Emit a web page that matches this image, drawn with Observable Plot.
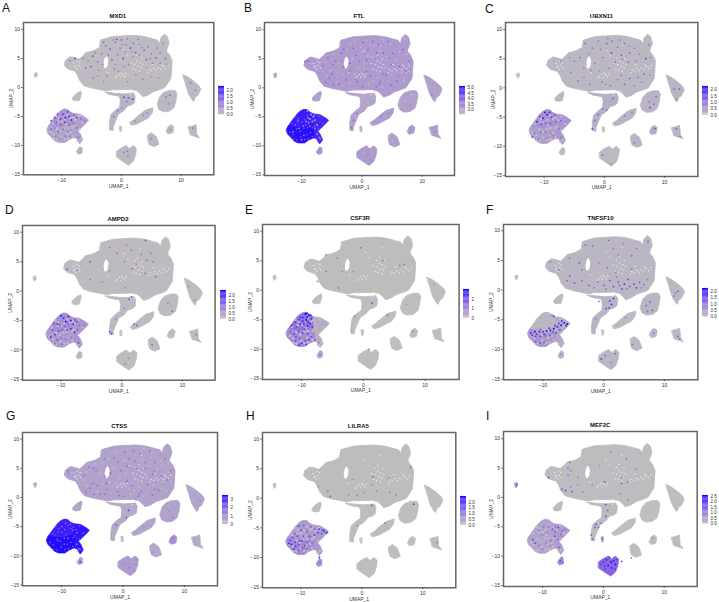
<!DOCTYPE html>
<html><head><meta charset="utf-8">
<script src="https://cdn.jsdelivr.net/npm/d3@7"></script>
<script src="https://cdn.jsdelivr.net/npm/@observablehq/plot@0.6"></script>
<style>
html,body{margin:0;padding:0;background:#fff}
#root{position:relative;width:719px;height:602px;overflow:hidden;font-family:"Liberation Sans",Arial,sans-serif}
#root svg{position:absolute;background:transparent;overflow:visible}
#root svg g[aria-label="dot"],#root svg g[aria-label="line"]{filter:blur(.3px)}
.lt{position:absolute;font-size:12px;line-height:12px;color:#111}
.ti{position:absolute;font-size:6px;line-height:6px;font-weight:bold;color:#111;text-align:center}
</style></head><body><div id="root"></div>
<script>
// Cluster outlines of the UMAP
const core=[[-9.6,3.9],[-9.4,4.7],[-8.6,5.3],[-8,5.2],[-7.1,4.9],[-6.5,5.4],[-6,6],[-5.2,6.2],[-4.6,6.4],[-3.7,6.9],[-3.5,8.2],[-2.5,8.5],[-1.5,8.8],[0,8.9],[2,9],[3.2,8.9],[4.2,8.7],[5.2,8.4],[6,8.2],[6.4,7.6],[6.6,8.6],[7.2,9.2],[7.7,8.8],[8,7.6],[7.6,6.6],[7.6,6.2],[8.1,5.6],[8.5,4.6],[8.4,3],[8.3,1.6],[7.3,0],[6.3,-.4],[5.4,-.7],[4.5,-1.3],[3.6,-1.6],[3,-.9],[2.5,-.5],[1.5,-.4],[0,-.4],[-1.5,-.4],[-2.5,-.6],[-4,-.3],[-5,-.1],[-6.3,.3],[-7,1.2],[-7.4,2.2],[-7.8,2.8],[-9,3.2]];
const lobe=[[-2.7,-.8],[-1,-1],[.3,-1.1],[2,-.9],[2.3,-1.5],[2.2,-2.6],[1.7,-3],[1,-3.2],[.4,-4],[-.5,-4.6],[-1,-5.8],[-1.4,-6.8],[-1.4,-7.4],[-2,-7.3],[-2,-6],[-1.8,-4.7],[-1,-3.9],[-.3,-3.4],[-.2,-2.2],[-.4,-1.5],[-2,-1.2]];
const myeUpper=[[-12.2,-6.6],[-11.6,-5.7],[-10.8,-4.6],[-10.2,-4],[-9.6,-3.7],[-9,-3.8],[-8.6,-4.2],[-8,-4.5],[-8,-6.4],[-10,-7]];
const myeRight=[[-8.05,-4.5],[-7,-4.6],[-6,-5.2],[-5.5,-5.6],[-6,-6.2],[-6.6,-6.8],[-7.3,-7.5],[-6.9,-8],[-6.5,-9],[-7,-9.7],[-7.5,-8.8],[-8,-8.6],[-8.2,-7],[-8.05,-6.35]];
const myeLower=[[-12.5,-7.2],[-12.2,-6.55],[-10,-6.95],[-7.95,-6.35],[-7.95,-8.6],[-8.8,-9],[-9.5,-9.5],[-10.5,-9.5],[-11.2,-9.2],[-11.8,-8.5],[-12.3,-8]];
const lowSpeck=[[-7.4,-10.8],[-7,-10.2],[-6.6,-10.4],[-6.6,-11.3],[-7.2,-11.5],[-7.5,-11.2]];
const leftBlob=[[-8.2,-1.7],[-7.5,-1],[-6.8,-.6],[-6.7,-1],[-7,-2.2],[-7.7,-2.3],[-8.1,-2.2]];
const tiny=[[-14.6,2.4],[-14.2,2.6],[-14.1,2],[-14.4,1.7]];
const rightTop=[[10.3,2.2],[11,1.9],[12,1.2],[13,.3],[13.3,-.3],[12.8,-1.4],[12.4,-1.6],[12.1,-2.4],[11.8,-2.1],[11.2,-1],[10.8,.4]];
const blobMid=[[6.4,-1.6],[7,-.9],[8,-.5],[9,-.5],[9.3,-1.1],[9.1,-2.5],[8.8,-3.5],[8,-4.1],[7,-4.2],[6.3,-3.8],[6,-3]];
const elong=[[1.4,-6],[2,-5.6],[3,-4.7],[4,-3.9],[5.3,-3.5],[5.2,-4.3],[4.6,-5.2],[3.5,-5.8],[2.6,-6.3],[1.7,-6.5]];
const small8=[[7.5,-7.6],[7.8,-6.8],[8.3,-6.4],[8.8,-6.8],[8.6,-7.8],[7.9,-8]];
const blob12=[[11.2,-6.8],[12,-6.6],[12.5,-6.4],[12.6,-7.4],[12.6,-8],[13.1,-8.7],[12.2,-8.4],[11.6,-8.2]];
const blob5=[[4.4,-8.2],[5,-7.8],[5.8,-8.4],[6.1,-9.2],[6.3,-9.8],[5.4,-10.2],[4.6,-9.8],[4.4,-9]];
const blob1=[[-.8,-11],[0,-10.4],[.8,-10],[1.3,-10.5],[2,-10],[2.5,-10.5],[2.4,-11.5],[2,-12.7],[1.2,-13.4],[.3,-12.8],[-.8,-12]];
const speck=[[-.3,-6.7],[0,-6.7],[0,-7.5],[-.2,-7.6]];
const clusters=[core,lobe,myeUpper,myeRight,myeLower,lowSpeck,leftBlob,tiny,rightTop,blobMid,elong,small8,blob12,blob5,blob1,speck];
const holes=[[[-2.9,3.4],[-2.6,3.3],[-2.3,3.8],[-2.2,4.8],[-2.5,5.4],[-2.8,5.1],[-3,4.2]],[[-.6,-.5],[1.9,-.4],[1.9,-.9],[-.6,-.9]]];
// Small empty pockets of the big cluster
const pockets=[[-8,4.2],[-7.7,3.7],[-7.4,4.5],[-7.2,3.8],[-7,4.3],[-7.5,3.2],[-6.9,3.4],[-7.9,3.5],[-.8,2],[-.4,2.3],[-.2,1.8],[.2,2.2],[.5,1.9],[.7,2.4],[-1,1.7],[0,2.5],[1.9,3.2],[2.2,4],[2.4,3],[2.6,4.6],[2.8,3.6],[3,2.8],[3.1,4.3],[3.3,3.4],[3.4,5],[3.6,4],[2.1,5.1],[1.6,4.2],[2.6,5.6],[4.6,3.1],[5,2.9],[5.4,3.3],[5.8,3],[6.2,3.4],[6.6,3.1],[7,3.6],[7.4,3.3],[7.8,3.8],[6.8,3.9],[5.2,4],[4.4,2.6],[1,5.5],[.4,6.4],[3,7.2],[-2.2,2.6],[.7,-.6],[1.5,-1.2]];

// Typical expression of each cluster, same order as clusters
const levelsMXD1=[.04,.15,.6,.45,.38,.2,.02,0,.05,.08,.08,.05,.08,.08,.08,0];
const levelsFTL=[3.1,2.95,4.9,4.8,5,3.2,3,2.95,3,3,3.05,3.1,3.05,3,3.1,2.9];
const levelsUBXN11=[.08,.2,.65,.55,.45,.05,.1,0,.12,.15,.15,.25,.15,.12,.05,0];
const levelsAMPD2=[.04,.08,.7,.6,.55,.1,.03,0,.03,.04,.04,.02,.03,.04,.03,0];
const levelsCSF3R=[.01,.02,1.4,.3,.95,.4,0,0,0,0,.02,.02,.02,0,.01,.02];
const levelsTNFSF10=[.1,.15,.12,.3,.55,.15,.06,0,.08,.12,.06,.1,.1,.08,.1,0];
const levelsCTSS=[.6,.42,3.2,3.3,3.4,.5,.5,.3,.55,.6,.55,1,.4,.45,.75,.3];
const levelsLILRA5=[.01,.01,.55,.55,.8,.7,0,0,0,0,.02,0,.05,0,0,0];
const levelsMEF2C=[.02,.05,.42,.55,.42,.8,0,.6,0,0,0,.05,.05,0,1.4,.5];

// Individually visible cells: x, y, expression
const spotsMXD1=[[-3,7.8,1.2],[-1.9,6.6,1.6],[-1,7.8,1],[-.8,8.3,1.8],[0,8.2,1.4],[.8,7.4,1],[1.5,6.8,2],[2,7.6,1.2],[2.4,6,1.5],[3,7.4,.9],[3.8,6.4,1.3],[4.4,7,1],[5,5.8,1.2],[5.8,5.1,1.4],[6.5,6,1],[7.4,5,1.4],[-4.8,5.4,1.4],[-4,4.4,1],[-5.1,3.6,1.6],[-3.8,3,1],[-3.3,5.8,1.3],[-1.6,4.8,1.4],[-.6,5.6,1],[.3,5,1.6],[.6,6.2,1],[1.2,4,1.2],[2,5.2,1],[4.2,4.8,1.3],[5.2,4.2,1.1],[6.5,4.2,1],[7.6,4,.9],[-6,3.4,1.2],[-7.8,5,1.6],[-8.6,4.6,1],[-1.2,3.2,1],[.5,3.6,1],[-2.4,2,1],[-4.7,1.6,.9],[-3,1,.9],[1,1,.9],[3.6,1.4,.9],[5,1.8,.8],[.4,-1.7,2],[1.2,-1.8,1.6],[1.9,-2,2.1],[.9,-2.4,1.2],[.1,-3.5,1],[-.6,-4,1.2],[-1.3,-5,1.1],[7.5,-1.6,1.2],[8.1,-1.3,1.5],[7.9,-2.8,1],[3.6,-4.8,1],[4.3,-4.4,1],[2.3,-5.8,.9],[11.6,.8,1.3],[12.4,-.5,.8],[.4,-11.2,1],[1,-11,1.2],[1.1,-11.8,.9],[5,-8.8,1.2],[12,-7,1.2],[8.2,-7.2,.8],[-11.8,-5.7,1.8],[-11.2,-5.2,2],[-10.7,-4.6,1.6],[-10.2,-5.4,2.2],[-9.8,-4.6,2],[-9.4,-5.2,2.3],[-9,-4.2,1.8],[-8.8,-5,2.1],[-8.4,-5.6,2],[-8,-4.8,1.7],[-7.5,-5.2,1.8],[-6.8,-5.4,1.3],[-6.2,-5.7,1.1],[-10.9,-6,1.8],[-10.2,-6.4,1.6],[-9.5,-6,2],[-8.8,-6.5,1.4],[-8,-6.2,1.4],[-11.8,-7.2,1.4],[-11.2,-7,1.2],[-10.6,-7.6,1.4],[-9.8,-7.2,1.2],[-9,-7.6,1.3],[-8.4,-7.4,1],[-11,-8.4,1.1],[-10.2,-8.8,1],[-9.4,-8.4,1.2],[-8.6,-8.4,1],[-7.4,-7,1.2],[-7.2,-8.6,1.3],[-2.6,7.2,1],[-1.4,8.2,.8],[-.2,6.8,1.1],[1,8.4,1],[2.8,8.3,1],[3.4,6.9,.9],[1.8,6.2,.9],[.2,7.4,.8],[-2.2,5.6,1],[-5.6,4.6,.9],[-6.4,5,1],[-4.4,6,1],[-3.2,4,.9],[-1,4,.9],[3,5.6,1],[4.8,5,.9],[6,6.8,1],[7,7.6,.9],[-.5,2.8,.8],[-4,2,.8],[2.4,2.2,.8],[4.4,3.4,.8],[6.2,1.6,.8]];
const spotsFTL=[[-9.4,4.5,3.9],[-4.8,4,3.9],[-4,2.6,2.7],[-3.4,6,3.9],[-2,7.6,2.6],[-1,5.6,3.8],[-.2,7,2.6],[.8,4.8,3.9],[1.4,7.4,2.7],[2.4,6,3.8],[3.6,8,2.6],[4.6,5.2,3.7],[5.4,6.2,2.6],[6.8,5,2.7],[7.1,8.4,2.6],[7.4,2.6,2.6],[6,2,3.7],[4.4,1.2,2.7],[2.8,.6,3.8],[1,1,2.7],[-1,1.4,3.8],[-3,.4,2.7],[-5.4,1.6,3.8],[-6.4,2.8,2.7],[-2,3,3.7],[.4,3.4,2.6],[3.5,2.4,3.8],[.2,-1.8,2.6],[1,-2.4,2.6],[1.8,-1.7,2.7],[-.8,-4.4,3.8],[-1.4,-5.6,4],[-1.7,-6.9,4.1],[3.2,-5,3.7],[4.4,-4.4,3.6],[7.2,-2.2,2.6],[8.2,-1.2,2.6],[8,-3,3.6],[12,0,2.6],[11.6,-1.2,3.6],[12.2,-7.6,3.6],[8.1,-7.2,3.6],[5.2,-9,2.7],[1,-11.6,3.6],[.2,-11.2,2.7],[1.4,-12.4,3.6],[-8.6,-5.4,2.7],[-8.2,-5.8,2.8],[-8.8,-6,3],[-7.8,-5.6,3],[-8.4,-4.6,2.9],[-9,-4,3.1],[-7.4,-6.4,3],[-7,-8.6,3.2],[-7.4,-8,3],[-10.4,-7,3.4],[-11.4,-7.6,3.6],[-9.6,-8.2,3.5],[-10.6,-5.6,3.8],[-8.9,-5.2,3],[-9.2,-5.8,3.2],[-8,-4.9,3],[-8.6,-6.6,3.1],[-7.8,-7,3.3],[-9.7,-6.6,3.6],[-11,-6.4,3.8],[-10,-9,3.6]];
const spotsUBXN11=[[-3.2,7.6,1.2],[-2,6.8,1],[-1,8,1],[.4,7.6,1.4],[1.3,8,1.2],[1.2,6,1.8],[2.2,7,1],[2.8,5.6,1.4],[3.4,7.6,1.1],[4.2,6,1.2],[5,6.8,1],[6.9,5,1.8],[7.7,5.2,1.1],[7.4,7.4,1.1],[-5,4.6,1],[-4,5.2,1.2],[-3.4,3.4,1],[-1.6,4.2,1],[-.2,5.2,1.1],[.8,3.4,1.1],[1.8,4.4,1.2],[4,4.4,1.2],[5.2,4.6,1],[6.6,2.4,1.2],[5.6,1.8,1.1],[4.2,1.6,1.4],[3.4,.6,1.2],[2.2,1.4,1],[1,.4,1],[-.4,1,1.2],[-2.4,.6,1],[-4.4,1.2,1],[-5.6,2.6,.9],[-7.2,4.6,1.1],[.4,-3.8,1.1],[1.4,-1.8,1.4],[-.3,-3.6,1.3],[-1,-4.6,1.4],[-1.6,-5.6,1.3],[-2,-7,1.6],[3.4,-4.8,1],[4.6,-4.2,1],[7.4,-2.4,1],[7.6,-3.4,1.6],[8.6,-1.5,1.2],[8.3,-2.8,1.2],[11.6,-.2,1.4],[12.5,-.2,1.4],[12,-2,1],[8.4,-7,1.4],[12,-7,1.2],[12.6,-8.3,1.1],[5,-9.4,1.1],[-.3,-11.5,1.3],[1.1,-13,1],[-10.8,-4.9,1.8],[-10.2,-5.2,2.2],[-9.9,-4.2,2.2],[-9.5,-4.6,2.2],[-9.1,-4.2,2],[-8.8,-5,1.8],[-8.2,-4.6,1.6],[-11.2,-5.8,2],[-10.5,-6.2,1.8],[-9.8,-6,1.5],[-9,-6.2,1.6],[-8,-5.8,1.4],[-7.2,-5.6,1.4],[-6.4,-5.8,1],[-12,-8.4,1.8],[-11.6,-7.8,1.4],[-11,-8.8,1.2],[-10.6,-7.6,1.3],[-9.8,-7.6,1.2],[-9,-7.8,1],[-9.6,-8.6,1.1],[-8.4,-8.2,1.1],[-7.5,-7,1],[-7.2,-8.5,1],[-2.6,5.8,.9],[-.6,6.6,.9],[.6,8.4,.9],[2.6,8.2,.9],[4.2,7.2,.9],[5.8,5.8,.9],[3,4.9,.9],[-5.8,5.2,.9],[-2.2,3,.9],[-.8,2.9,.9],[6.2,1,.9],[7.6,2.2,.9],[5,.4,.9],[2.8,2.2,.9],[-3.4,1.8,.8],[.2,.6,.8]];
const spotsAMPD2=[[.8,7.8,1],[1.6,7,1.2],[3.9,8.6,1.8],[3.2,6.2,1.2],[4.8,6.4,1],[5.2,5,1.2],[4.1,5.2,1.3],[-5.2,5,1.6],[-2,7.4,1],[-.8,6.4,1.1],[.4,5,1],[1.7,3.8,1.2],[2.4,4.6,1.1],[3.8,3,1.1],[5.6,2.4,1.2],[-9,3.7,1.8],[-7.4,3.6,1],[-5.2,2,1],[-3.2,1.6,1],[-2,3.4,1],[.6,.6,.9],[1.6,-1,1.6],[1.2,-1.4,1.6],[.4,-2.9,.9],[-1,-4.8,1],[-2,-6.9,1.8],[-1.7,-7.2,2],[7.6,-2,1],[8.3,-3.4,1.2],[11,.8,1],[12,-1.5,1],[2,-5.6,1.5],[2.5,-5.8,1.6],[5,-9.1,1.3],[12.2,-7.4,1.3],[.6,-12.3,1.1],[1.1,-11.4,1],[-10.6,-5.6,2.2],[-11.2,-5.4,1.8],[-10,-4.2,2.4],[-9.6,-4.6,2.2],[-9.2,-5.2,2.4],[-8.8,-4.3,2.2],[-8.4,-5,2.4],[-8,-5.6,2.3],[-7.4,-5.2,1.8],[-6.4,-5.8,1.2],[-11.4,-6.6,1.8],[-11.7,-7.8,2.4],[-11,-7.4,2],[-10.4,-6.8,1.8],[-9.8,-6.6,1.6],[-9,-6.6,1.8],[-8.4,-6.4,2.2],[-7.8,-7,2.3],[-7.3,-6.6,1.6],[-10.6,-8.3,1.8],[-10,-7.9,1.4],[-9.2,-8.1,1.6],[-8.4,-7.8,1.5],[-9.8,-9,1.3],[-7.1,-8.8,1.8],[-11,-8.9,1.3],[-10.2,-5.8,1.6],[-9.4,-6,1.7],[-8.8,-5.6,1.5],[-7.7,-4.9,1.8],[-7,-5.8,1.3]];
const spotsCSF3R=[[-6,6,1.2],[-4.2,5.4,1.5],[-.4,7.2,1.4],[3.2,5,1.2],[6.6,4.4,1.5],[5.9,4.2,1.2],[-6,3.2,1.4],[-3.4,3.2,1.3],[-1.6,3.2,1.2],[-7.4,1.5,1.2],[-4,.4,1.4],[1.4,-2.2,2],[-1.4,-4.4,1.3],[3.9,-4.2,1.6],[-1.9,-6.8,1],[7,-2.4,1],[.9,-10,1.5],[8,-7,1.1],[11.5,1,1.1],[-11.6,-6,2.5],[-11,-5.4,2.6],[-10.4,-5,2.8],[-10.2,-5.8,2.6],[-9.8,-4.6,2.9],[-9.4,-4,3],[-9.2,-5,3],[-8.8,-4.2,3],[-8.6,-5.6,2.9],[-8.4,-4.8,2.7],[-9.6,-5.6,2.9],[-10.8,-6.2,2.4],[-9,-6,2.6],[-8.2,-6.2,2.3],[-11.8,-7,2],[-11.2,-7.4,2.4],[-10.5,-7,2.2],[-9.8,-7.2,2.6],[-9,-7.4,2.3],[-8.4,-7.8,2.4],[-11,-8.6,2.2],[-10.3,-8.2,2.2],[-10,-9,2.7],[-9.4,-8.6,2.6],[-8.8,-8.4,2.4],[-10.4,-9.3,2.6],[-7.8,-8.4,1.8],[-7.2,-8.9,1.4],[-7,-10.9,1.6],[-7.4,-5.4,1],[-6.6,-5.8,.9],[-9.1,-4.6,3],[-8.5,-4.2,2.9],[-9.8,-5.2,2.7],[-9.2,-3.9,3],[-8.9,-5.4,2.8],[-10.2,-4.6,2.6],[-9.5,-6.6,2.4],[-10.9,-7.9,2.3],[-9.2,-9.2,2.4]];
const spotsTNFSF10=[[-3,7.6,1.2],[-1.8,7.4,1.1],[.8,8.4,1.4],[1.6,7,1],[3.2,7.8,1],[2.4,6,1],[4.6,5.8,1.2],[5.4,7,1],[7.3,8.2,1.2],[-8.8,4.8,1.2],[-7.4,3.4,1],[-5.6,5.4,1.2],[-4,4.6,1.6],[-3.6,3.4,1],[-.8,4.6,1],[.6,3.8,1.2],[2,3,1.3],[4.6,3.6,1.1],[-5.6,2.4,1.4],[-4.8,1.2,1.5],[-6,1.6,1.4],[-3.6,1.6,1.2],[-2.4,.8,1.3],[-1,1.4,1.2],[0,.8,1.4],[1,1.6,1.5],[1.6,.6,1.6],[2.4,1.4,1.5],[3,.2,1.6],[3.4,1,1.8],[4,1.8,1.6],[4.3,.6,1.5],[5,1,1.6],[5.4,.4,1.8],[5.9,1.3,1.3],[6.6,.9,1.2],[7.2,1.8,1],[2.2,2.2,1.1],[-.8,-1.9,1.2],[1,-1.8,1.8],[1.6,-1.4,1.9],[1.3,-2.4,2],[.4,-3.1,1.7],[.9,-3,1.6],[-1.3,-4.8,.9],[7,-2.6,1.4],[7.6,-2,1.3],[8,-3.4,1.5],[7.2,-3.6,1.2],[3.6,-4.6,.9],[11.8,-.4,1.2],[12.2,-.2,1.4],[11.6,-1,1],[8.2,-7.2,1],[12.2,-7.8,1.4],[12.5,-8.2,1.2],[4.7,-9.2,1],[-.4,-11.6,1.7],[.2,-11,1.2],[1.9,-10.7,1.3],[1.2,-12.2,1.1],[-8.5,-4.2,1.4],[-8.2,-4.4,2],[-6.5,-5.5,2.2],[-6,-5.7,2.2],[-7,-5.9,2.2],[-7.6,-6.2,2.1],[-8.2,-6.5,2.2],[-8.8,-6.8,2.1],[-9.4,-6.9,2.2],[-10,-7,2],[-10.6,-7,2.1],[-11.3,-7,2.2],[-12,-7.2,2],[-11.8,-7.6,1.9],[-11.2,-7.8,1.8],[-10.4,-7.8,1.6],[-9.6,-7.7,1.5],[-8.8,-7.6,1.5],[-7.8,-7.2,1.6],[-7.2,-6.7,1.7],[-11.2,-8.7,1.6],[-10.5,-8.9,1.5],[-9.8,-8.8,1.4],[-7,-10.8,.9],[-6.9,-5.2,1.8],[-6.2,-6,2],[-7.4,-5.6,1.8],[-8,-6,1.9],[-9,-6.4,1.8],[-10.4,-6.6,1.6],[-11,-7.4,1.9],[-9.8,-7.4,1.8],[-8.3,-7,1.8],[2.6,.8,1.2],[3.8,.2,1.2],[6.2,.4,1.1],[.4,.2,1],[-1.6,.4,1]];
const spotsCTSS=[[-4.8,5,1.9],[-4,3.8,.1],[-4.2,2,1.8],[-3.4,6,0],[-2.8,2.4,1.9],[-1.4,7.6,0],[-.8,6,1.6],[-.2,8,0],[.6,5.4,1.8],[1.2,7.4,0],[2,6.2,1.6],[3,8,0],[3.6,5,1.6],[4.6,6.8,0],[5,4.6,1.6],[6.4,5.6,0],[7.4,4.4,0],[6.4,1.6,0],[5.2,1.4,1.6],[4,.8,0],[2.6,.6,1.6],[1,1.4,0],[-.6,.4,1.6],[-1.6,2,0],[-3,.6,1.6],[-5.4,1.6,1.7],[-6.4,3,.1],[-8.8,4.2,1.5],[.9,-2.2,3],[.6,-1.8,.1],[1.4,-1.5,0],[.3,-2.9,.1],[.5,-3.4,2.2],[-1.1,-4.7,2.4],[-1.2,-4.2,.2],[7.6,-2.4,1.4],[8.1,-3.4,1.6],[7.4,-1.4,0],[3.4,-5,1.2],[4.3,-4.2,.2],[11.5,-.4,.1],[12.6,-.6,1.3],[8.1,-7,1.6],[12,-7.6,.2],[5,-9.4,1.2],[1,-12,1.6],[0,-11.4,1.3],[1.6,-11,.2],[-10,-5,2],[-9.4,-4.4,1.8],[-8.6,-4.6,2],[-8.2,-5.6,2.2],[-7.5,-6,1.8],[-11.2,-6.4,2.4],[-10.6,-7.4,2.4],[-9.6,-8,2.2],[-9,-7,2.2],[-7.6,-8,1.6],[-7.2,-8.8,1.4],[-7,-11,3]];
const spotsLILRA5=[[-7.2,2,1],[-5.6,1.2,1.3],[-5.2,.3,1.6],[-2.2,.6,1],[-.8,.5,1],[.4,1,1],[1.6,-1.2,1.8],[2.4,1.2,1],[1.6,2.3,1],[4.6,1,1],[5.6,.6,1],[4.4,3.4,.9],[1.8,3.6,1.4],[8,5.2,1.2],[-1.4,3.2,1],[8.5,-1,2],[3.8,-4.2,1.2],[-.8,-4.6,.9],[12.3,-7.5,1],[-10.4,-4.7,2],[-10,-5.4,1.8],[-9.6,-4.6,1.5],[-9,-5.6,1.8],[-8.4,-4.8,1.6],[-7.8,-5.2,2],[-7,-5.2,2],[-6.4,-5.4,2.2],[-5.8,-5.8,2.4],[-6.6,-6,2],[-7.8,-6.2,1.8],[-8.6,-6.4,1.8],[-9.6,-6.4,1.8],[-10.6,-6.4,2],[-11.4,-6.6,2],[-12,-7.6,2.4],[-11.6,-7.8,2.4],[-11,-7.4,2.2],[-10.4,-7.8,1.8],[-9.8,-7.2,1.9],[-9,-7.4,1.8],[-8.2,-7.6,1.4],[-11.2,-8.6,2.2],[-10.4,-8.8,1.8],[-9.8,-8.4,1.8],[-9,-8.6,1.4],[-7,-10,2.2],[-6.9,-10.9,1.5],[-6.2,-5.6,2],[-7.2,-5.8,2],[-11,-6,1.6],[-10.2,-7.2,2.1],[-11.8,-7.1,2.2],[-9.4,-8,1.9],[-10.9,-8.1,2.1]];
const spotsMEF2C=[[-5.5,6,1.6],[-5.8,5,1.4],[-5.4,4.6,1.2],[-5.8,3.8,1.1],[-4.2,3.4,1],[-9,3.4,1.8],[-6.8,1.4,1.6],[-6.2,1.2,2],[-5.4,1.8,1],[-5.2,1,1.6],[-4.2,2.2,1],[-3.4,1,1.1],[-1.8,2.2,1],[.2,2.6,1.6],[-.6,5.4,.9],[1.2,7.8,1],[3.8,6.6,1.2],[3,3.4,1.1],[3,2.4,1.5],[5.4,4.8,1],[4,2.6,1.2],[2.8,.6,1],[4,-.4,1.2],[.4,-1.2,1.8],[.7,-2.2,1.5],[.4,-3.2,1.8],[-.4,-4.4,1.4],[-1.2,-4.6,1.8],[-1.4,-5.1,1.6],[-.8,-5.1,1.3],[-2,-6.4,1.8],[-1.8,-7.1,1.8],[-.2,-7,1.8],[-14.2,2.2,1.8],[-14.3,1.9,1.2],[8.1,-6.9,1],[-7.1,-10.8,2],[-6.7,-11.1,1.8],[-6.8,-10.2,1.4],[4.6,-10.3,1.2],[3,-10.9,2],[-10.6,-5.6,1.4],[-9.8,-5,1.4],[-9.2,-6,1.2],[-8.4,-5.4,1.8],[-7.4,-5.1,2],[-8,-5.8,1.6],[-8,-6.6,2.2],[-6.8,-5.8,1.2],[-11.6,-7.2,1.9],[-11.2,-7.8,1.8],[-10.6,-8.2,1.4],[-9.4,-7.8,1.2],[-8.6,-7.4,1.4],[-7.4,-7.2,1.4],[-7.2,-8.5,1.6],[-10,-8.8,1.2],[-.4,-11.4,2],[0,-11,2.2],[.5,-10.6,2.4],[1,-10.2,2.4],[1.3,-11,2.5],[1.7,-10.8,2.4],[2,-11.4,2.5],[.8,-11.6,2.5],[1.4,-12,2.4],[.3,-12.2,2],[1.2,-12.7,1.6],[1.9,-12.2,2.2],[2.2,-10.6,2],[.2,-11.7,2.2],[-9,-5,1.4],[-7.9,-5,1.5],[-6.4,-5.5,1.3],[-7,-6.3,1.4],[-10.1,-6.4,1.1],[-8.8,-8.2,1.1]];

// Cells of the large clusters that stay unexpressed or stand out as grain
const myeGrey=[[-11.5,-6.2],[-11,-5],[-10.5,-5.3],[-10,-5.9],[-9.5,-5.5],[-9,-4.8],[-8.5,-5.3],[-8.1,-5.1],[-7.7,-5.5],[-7.1,-4.9],[-6.5,-6.1],[-11.9,-7.7],[-11.4,-8.1],[-10.8,-7.1],[-10.2,-7.5],[-9.6,-7],[-9,-6.9],[-8.5,-7.7],[-7.9,-6.6],[-7.1,-7.2],[-11.3,-8.9],[-10.8,-9],[-10.1,-8.5],[-9.5,-8.9],[-8.9,-8.8],[-8.2,-8.4],[-6.9,-8.9],[-7.3,-9.2],[-9.3,-6.4],[-10.6,-5.9],[-8.2,-6.9],[-9.1,-8]];
const coreLight=[[-8.6,4.2],[-6,4.4],[-5.2,3],[-4.6,5.8],[-4.2,1],[-3.6,7.8],[-3.2,2.4],[-2.4,6.6],[-2,.8],[-1.6,5],[-1.2,8],[-.6,3.4],[0,6.2],[.4,4.2],[.8,8.2],[1.2,.6],[1.6,5.4],[2,7.2],[2.6,1.8],[3,6.4],[3.4,8.4],[3.9,3.4],[4.2,5.4],[4.7,7.6],[5,2.2],[5.6,4.8],[6.2,6.2],[6.6,2.6],[7,1.2],[7.4,5.8],[7.8,2.8],[-5.8,2],[-3.8,4.2],[-1.2,2.4],[1.8,1.2],[3.4,.2]];
const coreDark=[[-8.9,4.6],[-6.4,3.8],[-5.6,5.2],[-5,2.4],[-4.4,4.6],[-3.8,.6],[-3,6.6],[-2.6,1.4],[-2,4.2],[-1.4,6.8],[-.8,1],[-.4,4.6],[.2,7.8],[.7,2.8],[1,6.6],[1.4,2],[1.8,8],[2.2,5],[2.8,7.4],[3,1],[3.6,6],[4,2.2],[4.4,8],[4.8,4],[5.2,6],[5.8,1.2],[6.2,3.6],[6.8,6.6],[7.2,3],[7.8,4.6],[-6,.9],[-4.8,.5],[-3,3.6],[.1,.2],[2.4,.2],[4.8,.4]];

// Legends
const rangeMXD1=[0,2.37],rangeFTL=[2.56,5.09],rangeUBXN11=[0,2.27],rangeAMPD2=[0,2.43],rangeCSF3R=[0,3],rangeTNFSF10=[0,2.23],rangeCTSS=[0,3.5],rangeLILRA5=[0,2.5],rangeMEF2C=[0,2.55];
const ticksHalf=[0,.5,1,1.5,2],ticksFTL=[3,3.5,4,4.5,5],ticksCSF3R=[0,1,2],ticksCTSS=[0,1,2,3],ticksMEF2C=[0,.5,1,1.5,2,2.5];
const lowColor="#bebebe",highColor="#0000ff";

const panels=[
{g:"MXD1",L:"A",lp:[2,2],fr:[22.7,213,21.7,174],xt:[61,180.3],yt:[28.7,173.7],lg:[218.3,85.7,114],lv:levelsMXD1,sp:spotsMXD1,r:rangeMXD1,t:ticksHalf,grain:0},
{g:"FTL",L:"B",lp:[244,2],fr:[264,454,22,175],xt:[301,421.7],yt:[29.3,174.3],lg:[459,85.7,114],lv:levelsFTL,sp:spotsFTL,r:rangeFTL,t:ticksFTL,light:2.6,dark:3.9,grain:4},
{g:"UBXN11",L:"C",lp:[485,3],fr:[505.3,697.7,22,176],xt:[544,664.3],yt:[29,175],lg:[702.3,86,114.7],lv:levelsUBXN11,sp:spotsUBXN11,r:rangeUBXN11,t:ticksHalf,grain:0},
{g:"AMPD2",L:"D",lp:[5,204],fr:[21.7,214.3,225.3,380],xt:[60.3,181.7],yt:[232,379.3],lg:[219.7,289.7,318.3],lv:levelsAMPD2,sp:spotsAMPD2,r:rangeAMPD2,t:ticksHalf,grain:0},
{g:"CSF3R",L:"E",lp:[245,204],fr:[261.7,458.3,224.3,379.3],xt:[300.7,424.3],yt:[231,378.7],lg:[463.3,289,317.7],lv:levelsCSF3R,sp:spotsCSF3R,r:rangeCSF3R,t:ticksCSF3R,grain:0},
{g:"TNFSF10",L:"F",lp:[486,204],fr:[503.3,697.7,224,379.3],xt:[542.7,664.3],yt:[230.3,378.7],lg:[702,288.3,316.7],lv:levelsTNFSF10,sp:spotsTNFSF10,r:rangeTNFSF10,t:ticksHalf,grain:0},
{g:"CTSS",L:"G",lp:[6,410],fr:[21.7,216.7,431.7,585],xt:[61,183.5],yt:[438.3,584.3],lg:[222,495,524],lv:levelsCTSS,sp:spotsCTSS,r:rangeCTSS,t:ticksCTSS,light:0,dark:1.7,grain:2},
{g:"LILRA5",L:"H",lp:[246,410],fr:[261.7,455,431.7,587],xt:[300.3,422],yt:[438.3,586.3],lg:[460,496.3,525],lv:levelsLILRA5,sp:spotsLILRA5,r:rangeLILRA5,t:ticksHalf,grain:0},
{g:"MEF2C",L:"I",lp:[486,410],fr:[503.3,697,430.7,585.7],xt:[542.3,664],yt:[438,584.7],lg:[702,495.3,523.7],lv:levelsMEF2C,sp:spotsMEF2C,r:rangeMEF2C,t:ticksMEF2C,grain:0}
];

const root=document.getElementById("root");
const ink="#333";
function place(el,l,t){el.style.left=l+"px";el.style.top=t+"px";root.appendChild(el);}
function colorOf(r){return {type:"linear",domain:r,range:[lowColor,highColor],interpolate:"lab",clamp:true};}

for(const p of panels){
  const [l,r,t,b]=p.fr, ml=22,mr=2,mt=2,mb=18;
  const kx=(p.xt[1]-p.xt[0])/20, x0=(p.xt[1]+p.xt[0])/2;
  const ky=(p.yt[1]-p.yt[0])/25, y0=p.yt[0]+10*ky;
  const marks=[];
  clusters.forEach((c,i)=>{
    const lev=p.lv[i];
    marks.push(Plot.line(c,{x:d=>d[0],y:d=>d[1],curve:"linear-closed",fill:()=>lev,stroke:()=>lev,strokeWidth:.8}));
  });
  for(const h of holes) marks.push(Plot.line(h,{x:d=>d[0],y:d=>d[1],curve:"linear-closed",fill:"white",stroke:"none"}));
  marks.push(Plot.dot(pockets,{x:d=>d[0],y:d=>d[1],fill:"white",fillOpacity:.65,r:.75,stroke:"none"}));
  marks.push(Plot.dot(myeGrey,{x:d=>d[0],y:d=>d[1],fill:()=>p.grain||p.r[0],r:p.grain?.8:1.3,stroke:"none"}));
  if(p.light!==undefined){
    marks.push(Plot.dot(coreLight,{x:d=>d[0],y:d=>d[1],fill:()=>p.light,r:1,stroke:"none"}));
    marks.push(Plot.dot(coreDark,{x:d=>d[0],y:d=>d[1],fill:()=>p.dark,r:.9,stroke:"none"}));
  }
  marks.push(Plot.dot(p.sp,{x:d=>d[0],y:d=>d[1],fill:d=>d[2],r:.9,stroke:"none"}));
  marks.push(Plot.frame({stroke:"#666",strokeWidth:1.5}));
  marks.push(Plot.axisX({ticks:[-10,0,10],tickSize:2,tickPadding:1.5,fontSize:5,stroke:ink,color:ink,label:"UMAP_1",labelAnchor:"center",labelArrow:"none",labelOffset:13,strokeWidth:.6}));
  marks.push(Plot.axisY({ticks:[-15,-10,-5,0,5,10],tickSize:2,tickPadding:1.5,fontSize:5,stroke:ink,color:ink,label:"UMAP_2",labelAnchor:"center",labelArrow:"none",labelOffset:14,strokeWidth:.6}));
  const fig=Plot.plot({width:r-l+ml+mr,height:b-t+mt+mb,marginLeft:ml,marginRight:mr,marginTop:mt,marginBottom:mb,
    style:{fontSize:"5px",fontFamily:"'Liberation Sans',Arial,sans-serif",background:"transparent"},
    x:{domain:[(l-x0)/kx,(r-x0)/kx]},y:{domain:[(y0-b)/ky,(y0-t)/ky]},color:colorOf(p.r),marks});
  place(fig,l-ml,t-mt);

  const ti=document.createElement("div");ti.className="ti";ti.textContent=p.g;ti.style.width=(r-l)+"px";place(ti,l,t-9);
  const lt=document.createElement("div");lt.className="lt";lt.textContent=p.L;place(lt,p.lp[0],p.lp[1]);

  const [lx,ly0,ly1]=p.lg, n=24, st=(p.r[1]-p.r[0])/n;
  const stops=d3.range(n).map(i=>p.r[0]+i*st);
  const leg=Plot.plot({width:22,height:ly1-ly0+2,marginLeft:0,marginRight:16,marginTop:1,marginBottom:1,
    style:{fontSize:"4.5px",fontFamily:"'Liberation Sans',Arial,sans-serif",background:"transparent"},
    x:{domain:[0,1],axis:null},y:{domain:p.r},color:colorOf(p.r),
    marks:[Plot.rect(stops,{x1:0,x2:1,y1:d=>d,y2:d=>d+st*1.05,fill:d=>d+st/2}),
      Plot.axisY({anchor:"right",ticks:p.t,tickSize:0,tickPadding:2,fontSize:4.6,color:ink,label:null,tickFormat:p.t===ticksCSF3R||p.t===ticksCTSS?d3.format("d"):d3.format(".1f")})]});
  place(leg,lx,ly0-1);
}
</script></body></html>
